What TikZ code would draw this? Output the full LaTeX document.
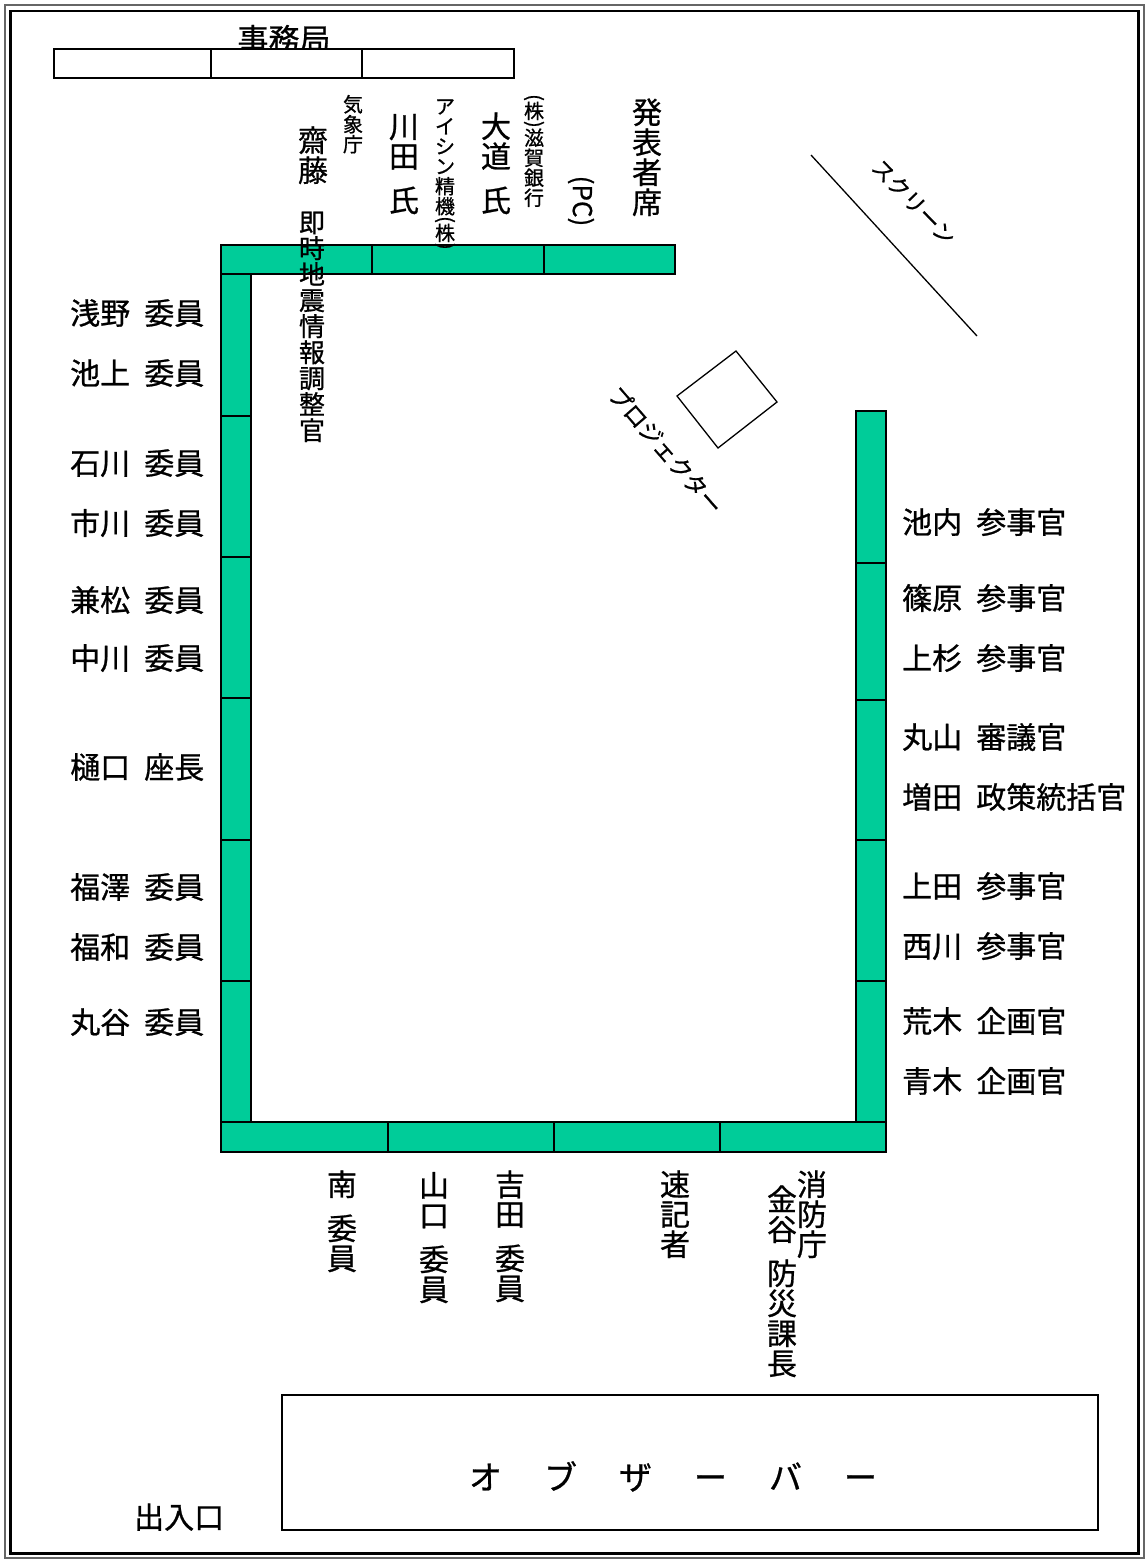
\documentclass[tikz,border=0pt]{standalone}
\usepackage{graphicx}
\usepackage{fontspec}
\setmainfont{Noto Sans CJK JP}[WordSpace=2.1,FakeBold=0.8]
\definecolor{tgreen}{RGB}{0,204,153}
\newcommand\vstrut{\vrule height .88em depth .12em width 0pt}
\newcommand\vcell[1]{\hbox to 1em{\hss\vstrut#1\hss}}
\newcommand\vsp{\kern .47em}
\newcommand\vlp{\hbox to 1em{\hss\rotatebox{-90}{(}\hss}}
\newcommand\vrp{\hbox to 1em{\hss\rotatebox{-90}{)}\hss}}
\newcommand\osp{\hspace{42pt}}
\ExplSyntaxOn
\NewDocumentCommand\vtext{m}
  {
    \vbox
      {
        \offinterlineskip
        \tl_map_inline:nn {#1}
          {
            \token_if_cs:NTF ##1 { ##1 } { \vcell {##1} }
          }
      }
  }
\ExplSyntaxOff
\begin{document}
\begin{tikzpicture}[x=1pt,y=-1pt,
  tbl/.style={draw=black, line width=1.2pt, fill=tgreen},
  wbox/.style={draw=black, line width=1.6pt, fill=white},
  fthirty/.style={font=\fontsize{30}{30}\selectfont},
  lbl/.style={fthirty, anchor=west, inner sep=0pt, text height=26.4pt, text depth=3.6pt},
  vt/.style={anchor=north, inner sep=0pt},
  vbig/.style={vt, fthirty},
  vmid/.style={vt, font=\fontsize{26}{26}\selectfont},
  vsmall/.style={vt, font=\fontsize{20}{20}\selectfont},
  diag/.style={inner sep=0pt, font=\fontsize{22}{22}\selectfont}
]
\useasboundingbox (0,0) rectangle (1146,1559);
% frame
\draw[line width=1.5pt, black!60] (5,5) rectangle (1144,1558);
\draw[line width=2.2pt, black] (10.5,11) rectangle (1138.5,1553.5);

% secretariat
\node[anchor=base, inner sep=0pt, font=\fontsize{31}{31}\selectfont] (jimu) at (284,51) {事務局};
\draw[wbox] (54,49) rectangle (211,78);
\draw[wbox] (211,49) rectangle (362,78);
\draw[wbox] (362,49) rectangle (514,78);

% tables: top row
\draw[tbl] (221,245) rectangle (372,274);
\draw[tbl] (372,245) rectangle (544,274);
\draw[tbl] (544,245) rectangle (675,274);
% left column
\foreach \a/\b in {274/416,416/557,557/698,698/840,840/981,981/1122}
  \draw[tbl] (221,\a) rectangle (251,\b);
% right column
\foreach \a/\b in {411/563,563/700,700/840,840/981,981/1122}
  \draw[tbl] (856,\a) rectangle (886,\b);
% bottom row
\foreach \a/\b in {221/388,388/554,554/720,720/886}
  \draw[tbl] (\a,1122) rectangle (\b,1152);

% screen and projector
\coordinate (scrA) at (811,155);
\coordinate (scrB) at (977,336);
\draw[line width=1.3pt] (scrA) -- (scrB);
\draw[line width=1.3pt] (736,351) -- (777,402) -- (718,448) -- (677,396) -- cycle;
\node[diag, rotate=-46] (screen) at (914,202) {スクリーン};
\node[diag, font=\fontsize{23}{23}\selectfont, rotate=-49] (proj) at (666,450) {プロジェクター};

% top vertical labels
\node[vbig] (saito) at (313,125) {\vtext{齋藤}};
\node[vmid] (sokuji) at (312,209) {\vtext{即時地震情報調整官}};
\node[vsmall] (kisho) at (353,94) {\vtext{気象庁}};
\node[vbig] (kawada) at (404,111) {\vtext{川田\vsp 氏}};
\node[vsmall] (aisin) at (445,96) {\vtext{アイシン精機\vlp 株\vrp}};
\node[vbig] (omichi) at (496,111) {\vtext{大道\vsp 氏}};
\node[vsmall] (shiga) at (534,94) {\vtext{\vlp 株\vrp 滋賀銀行}};
\node[inner sep=0pt, font=\fontsize{26}{26}\selectfont, rotate=-90] (pc) at (581,201) {(PC)};
\node[vbig] (happyo) at (647,97) {\vtext{発表者席}};

% left labels
\node[lbl] (asano) at (70,313) {浅野 委員};
\node[lbl] (ikegami) at (70,373) {池上 委員};
\node[lbl] (ishikawa) at (70,463) {石川 委員};
\node[lbl] (ichikawa) at (70,523) {市川 委員};
\node[lbl] (kanematsu) at (70,600) {兼松 委員};
\node[lbl] (nakagawa) at (70,658) {中川 委員};
\node[lbl] (higuchi) at (70,767) {樋口 座長};
\node[lbl] (fukuzawa) at (70,887) {福澤 委員};
\node[lbl] (fukuwa) at (70,947) {福和 委員};
\node[lbl] (maruya) at (70,1022) {丸谷 委員};

% right labels
\node[lbl] (ikeuchi) at (902,522) {池内 参事官};
\node[lbl] (shinohara) at (902,598) {篠原 参事官};
\node[lbl] (uesugi) at (902,658) {上杉 参事官};
\node[lbl] (maruyama) at (902,737) {丸山 審議官};
\node[lbl] (masuda) at (902,797) {増田 政策統括官};
\node[lbl] (ueda) at (902,886) {上田 参事官};
\node[lbl] (nishikawa) at (902,946) {西川 参事官};
\node[lbl] (araki) at (902,1021) {荒木 企画官};
\node[lbl] (aoki) at (902,1081) {青木 企画官};

% bottom vertical labels
\node[vbig] (minami) at (342,1169) {\vtext{南\vsp 委員}};
\node[vbig] (yamaguchi) at (434,1170) {\vtext{山口\vsp 委員}};
\node[vbig] (yoshida) at (510,1169) {\vtext{吉田\vsp 委員}};
\node[vbig] (sokkisha) at (675,1169) {\vtext{速記者}};
\node[vbig] (shobo) at (812,1169) {\vtext{消防庁}};
\node[vbig] (kanaya) at (782,1184) {\vtext{金谷\vsp 防災課長}};

% observers and entrance
\draw[line width=1.6pt] (282,1395) rectangle (1098,1530);
\node[inner sep=0pt, font=\fontsize{33}{33}\selectfont, text height=29pt, text depth=4pt] (obs) at (673,1477) {オ\osp ブ\osp ザ\osp ー\osp バ\osp ー};
\node[lbl] (deiri) at (134,1517) {出入口};
\end{tikzpicture}
\end{document}
